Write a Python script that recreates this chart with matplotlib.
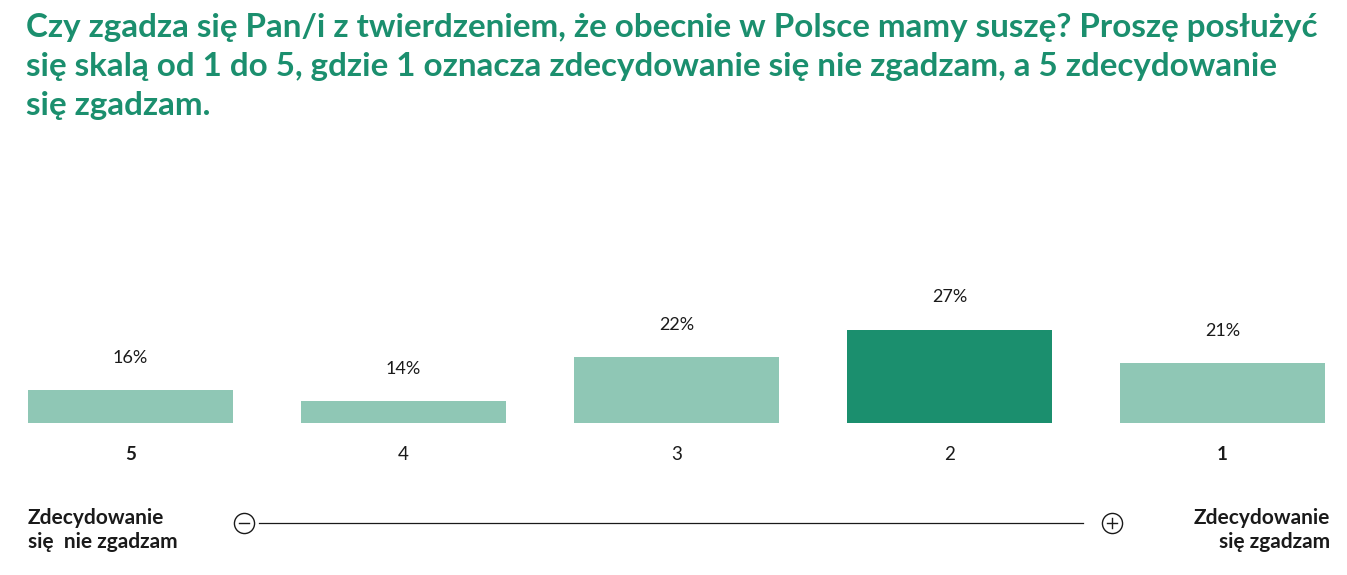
import matplotlib.pyplot as plt

plt.rcParams['font.family'] = ['Lato', 'DejaVu Sans']

# dane
categories = ['5', '4', '3', '2', '1']
values = [16, 14, 22, 27, 21]
bold_cats = ['5', '1']
highlight = '2'

title = ('Czy zgadza się Pan/i z twierdzeniem, że obecnie w Polsce mamy suszę? Proszę posłużyć\n'
         'się skalą od 1 do 5, gdzie 1 oznacza zdecydowanie się nie zgadzam, a 5 zdecydowanie\n'
         'się zgadzam.')
left_label = 'Zdecydowanie\nsię  nie zgadzam'
right_label = 'Zdecydowanie\nsię zgadzam'

GREEN = '#1b8f6e'
LIGHT = '#8fc7b5'
TXT = '#1a1a1a'

W, H = 1347, 575
fig = plt.figure(figsize=(W / 100, H / 100), dpi=100)

def px(x, y):
    return x / W, 1 - y / H

# bars axes: left 28px, right 1325px, baseline at y=423px
ax_h = 120
ax = fig.add_axes([28 / W, (H - 423) / H, 1297 / W, ax_h / H])
bottom = 10
ax.set_ylim(bottom, bottom + ax_h / 5.5)
x = list(range(len(categories)))
ax.set_xlim(-0.376, len(categories) - 1 + 0.376)
colors = [GREEN if c == highlight else LIGHT for c in categories]
ax.bar(x, [v - bottom for v in values], bottom=bottom, width=0.752, color=colors)
ax.axis('off')

for i, (c, v) in enumerate(zip(categories, values)):
    ax.annotate(f'{v}%', xy=(i, v), xytext=(0, 32), textcoords='offset pixels',
                ha='center', va='center', fontsize=13, color=TXT)
    ax.annotate(c, xy=(i, bottom), xytext=(0, -31), textcoords='offset pixels',
                ha='center', va='center', fontsize=13.5, color=TXT,
                fontweight='bold' if c in bold_cats else 'normal')

fig.text(*px(26, 13), title, ha='left', va='top', fontsize=23.9, fontweight='bold',
         color=GREEN, linespacing=1.42)

fig.text(*px(28, 530), left_label, ha='left', va='center', fontsize=15,
         fontweight='bold', color=TXT, linespacing=1.3)
fig.text(*px(1330, 530), right_label, ha='right', va='center', fontsize=15,
         fontweight='bold', color=TXT, linespacing=1.3, multialignment='right')

# scale line with minus/plus circles (pixel overlay)
ov = fig.add_axes([0, 0, 1, 1], facecolor='none')
ov.set_xlim(0, W)
ov.set_ylim(H, 0)
ov.axis('off')
ov.plot([259, 1083], [523, 523], color=TXT, lw=0.9)
for cx in (244, 1112):
    ov.plot(cx, 523, marker='o', ms=14.5, mfc='none', mec=TXT, mew=1.0)
    ov.plot([cx - 5, cx + 5], [523, 523], color=TXT, lw=1.0)
ov.plot([1112, 1112], [518, 528], color=TXT, lw=1.0)

fig.savefig('out.png', dpi=100)
